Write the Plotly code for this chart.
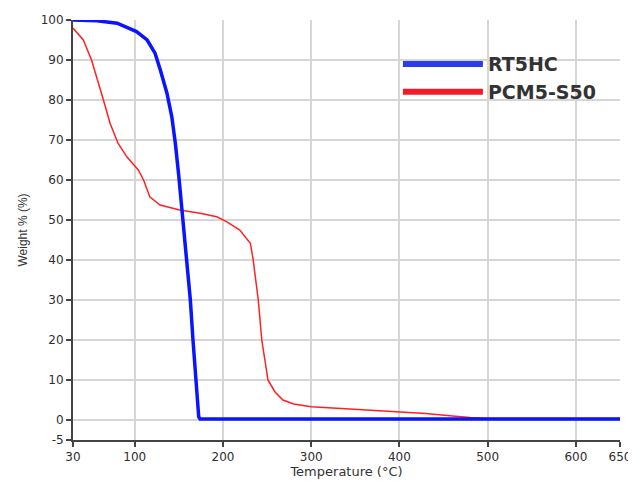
import plotly.graph_objects as go

# RT5HC (blue)
rt_temp = [30, 57, 80, 102, 114, 123, 129, 136.5, 142, 146, 150, 153.5, 156, 159, 163, 166, 169.5, 171.5, 172.5, 174, 200, 300, 400, 500, 600, 650]
rt_weight = [100, 99.8, 99.2, 97.1, 95, 91.7, 87.5, 81.7, 75.8, 69.2, 60.8, 52.5, 45.8, 40.4, 30, 20, 10, 4, 0.8, 0.25, 0.25, 0.25, 0.25, 0.25, 0.25, 0.25]

# PCM5-S50 (red)
pcm_temp = [30, 32, 41.7, 51, 57, 64.5, 72, 81, 91, 104, 110, 117, 128.6, 151, 174, 193, 204, 219, 231, 234, 240, 244, 251, 259, 268, 280, 300, 330, 370, 400, 430, 460, 480, 500, 650]
pcm_weight = [98, 97.5, 95, 90, 85.8, 80, 74.2, 69.2, 65.8, 62.5, 60, 55.8, 53.75, 52.5, 51.7, 50.8, 49.6, 47.5, 44.2, 40.4, 30, 20, 10, 7, 5, 4, 3.3, 2.9, 2.5, 2.1, 1.6, 1.0, 0.6, 0.4, 0.4]

x_ticks = [30, 100, 200, 300, 400, 500, 600, 650]
y_ticks = [-5, 0, 10, 20, 30, 40, 50, 60, 70, 80, 90, 100]

BLUE = "#0a14ff"
RED = "#ff2020"

fig = go.Figure()
fig.add_trace(go.Scatter(x=pcm_temp, y=pcm_weight, mode="lines", name="PCM5-S50",
                         line=dict(color=RED, width=1.5), showlegend=False))
fig.add_trace(go.Scatter(x=rt_temp, y=rt_weight, mode="lines", name="RT5HC",
                         line=dict(color=BLUE, width=3.5), showlegend=False))
# legend entries (thicker sample lines, as in the reference)
fig.add_trace(go.Scatter(x=[None], y=[None], mode="lines", name="RT5HC",
                         line=dict(color="#2a3cf0", width=6), legendrank=1))
fig.add_trace(go.Scatter(x=[None], y=[None], mode="lines", name="PCM5-S50",
                         line=dict(color="#f01c28", width=6), legendrank=2))

tickfont = dict(family="DejaVu Sans, Verdana, sans-serif", size=12, color="#2e2e2e")
fig.update_layout(
    width=628, height=473,
    margin=dict(l=65, r=16, t=12, b=41),
    paper_bgcolor="white", plot_bgcolor="white",
    showlegend=True,
    legend=dict(x=0.594, y=0.94, xanchor="left", yanchor="top", bgcolor="rgba(0,0,0,0)",
                font=dict(family="DejaVu Sans, Verdana, sans-serif", size=19, color="#333333", weight="bold"),
                itemwidth=80, tracegroupgap=0),
    xaxis=dict(range=[30, 650], tickvals=x_ticks, ticktext=[str(v) for v in x_ticks],
               showgrid=True, gridcolor="#d6d6d6", gridwidth=1.5,
               showline=True, linecolor="#444444", linewidth=2,
               ticks="outside", ticklen=5, tickcolor="#444444", tickwidth=2,
               tickfont=tickfont, zeroline=False, automargin=False,
               title=dict(text="Temperature (°C)", standoff=2,
                          font=dict(family="DejaVu Sans, Verdana, sans-serif", size=13, color="#333333"))),
    yaxis=dict(range=[-5, 100], tickvals=y_ticks, ticktext=[str(v) for v in y_ticks],
               showgrid=True, gridcolor="#d6d6d6", gridwidth=1.5,
               showline=True, linecolor="#444444", linewidth=2,
               ticks="outside", ticklen=5, tickcolor="#444444", tickwidth=2,
               tickfont=tickfont, zeroline=False, automargin=False,
               title=dict(text="Weight % (%)", standoff=10,
                          font=dict(family="Liberation Sans, Arial, sans-serif", size=12, color="#333333"))),
)

fig.write_html("out.html")
